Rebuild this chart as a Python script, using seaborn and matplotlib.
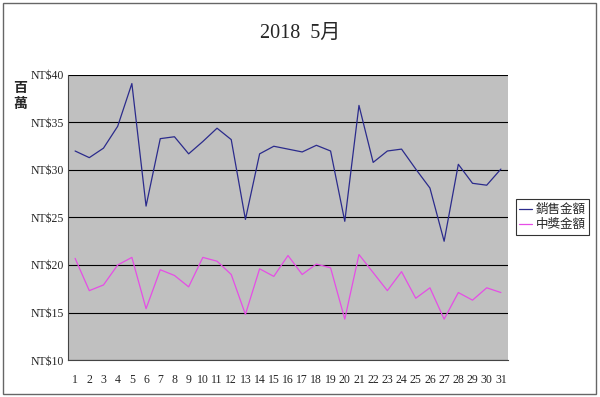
import pandas as pd
import matplotlib
matplotlib.use("Agg")
import matplotlib.pyplot as plt
import seaborn as sns
from matplotlib.patches import Rectangle
from matplotlib.lines import Line2D

# 資料
days = list(range(1, 32))
sales = [32.0, 31.3, 32.3, 34.6, 39.1, 26.2, 33.3, 33.5, 31.7, 33.0,
         34.4, 33.2, 24.8, 31.7, 32.5, 32.2, 31.9, 32.6, 32.0, 24.6,
         36.8, 30.8, 32.0, 32.2, 30.1, 28.1, 22.5, 30.6, 28.6, 28.4, 30.1]
prize = [20.7, 17.3, 17.9, 20.0, 20.8, 15.4, 19.5, 18.9, 17.7, 20.8,
         20.4, 19.0, 14.8, 19.6, 18.8, 21.0, 19.0, 20.1, 19.7, 14.3,
         21.1, 19.2, 17.3, 19.3, 16.5, 17.6, 14.3, 17.1, 16.3, 17.6, 17.1]
series_names = ["銷售金額", "中獎金額"]
yticks = [10, 15, 20, 25, 30, 35, 40]

df = pd.DataFrame({
    "day": days * 2,
    "value": sales + prize,
    "series": [series_names[0]] * len(days) + [series_names[1]] * len(days),
})

sns.set_style("white")
plt.rcParams["font.family"] = ["Liberation Serif", "Noto Sans CJK TC"]

fig = plt.figure(figsize=(6, 3.97), dpi=100)
ax = fig.add_axes([68 / 600, 1 - 360 / 397, 440 / 600, 285 / 397])

colors = ["#2B2B8C", "#E64DE6"]
sns.lineplot(data=df, x="day", y="value", hue="series",
             palette=colors, linewidth=0.9, ax=ax, legend=False)

ax.set_facecolor("#C0C0C0")
ax.set_xlim(0.5, 31.5)
ax.set_ylim(10, 40)
ax.set_yticks(yticks)
ax.set_yticklabels([f"NT${v}" for v in yticks], fontsize=8.5)
ax.yaxis.grid(True, color="black", linewidth=0.8)
ax.set_axisbelow(True)
ax.set_xticks(days)
ax.set_xticklabels([str(d) for d in days], fontsize=8.5)
ax.set_xticks([d + 0.5 for d in range(0, 32)], minor=True)
ax.tick_params(axis="x", which="major", length=0, pad=10)
ax.tick_params(axis="x", which="minor", direction="in", length=3, color="#333333")
ax.tick_params(axis="y", length=0, pad=3)
ax.set_xlabel("")
ax.set_ylabel("")
for side in ["top", "right"]:
    ax.spines[side].set_visible(False)
for side in ["left", "bottom"]:
    ax.spines[side].set_color("#444444")
    ax.spines[side].set_linewidth(0.8)

fig.text(0.5, 1 - 33 / 397, "2018  5月", ha="center", va="center", fontsize=14.5)
fig.text(20 / 600, 1 - 88 / 397, "百", ha="center", va="center", fontsize=10,
         fontweight="bold", family=["Noto Sans CJK TC"])
fig.text(20 / 600, 1 - 104 / 397, "萬", ha="center", va="center", fontsize=10,
         fontweight="bold", family=["Noto Sans CJK TC"])

# 圖例
handles = [Line2D([], [], color=c, lw=0.9) for c in colors]
leg = fig.legend(handles, series_names, loc="center left",
                 bbox_to_anchor=(513 / 600, 1 - 217 / 397), frameon=True,
                 fancybox=False, edgecolor="black", handlelength=1.0,
                 handletextpad=0.3, borderpad=0.3, labelspacing=0.15,
                 borderaxespad=0.2,
                 prop={"family": ["Noto Sans CJK TC"], "size": 9})
leg.get_frame().set_linewidth(0.8)

# 外框
fig.patches.append(Rectangle((3 / 600, 3 / 397), 593 / 600, 391 / 397, transform=fig.transFigure,
                             fill=False, edgecolor="#666666", linewidth=1))

fig.savefig("out.png", dpi=100)
